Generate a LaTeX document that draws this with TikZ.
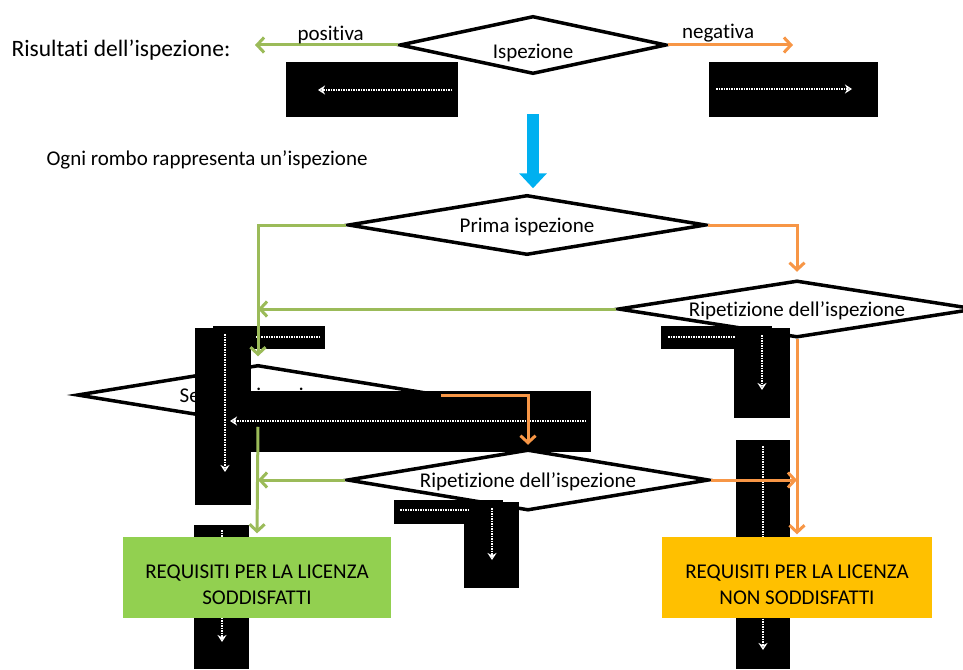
\documentclass[tikz,border=0pt]{standalone}
\usepackage{fontspec}
\setmainfont{Carlito}[Ligatures=NoCommon]
\usetikzlibrary{positioning}
\usetikzlibrary{shapes.geometric}
\usetikzlibrary{arrows.meta}
\definecolor{linegreen}{RGB}{155, 187, 89}
\definecolor{lineorange}{RGB}{247, 150, 70}
\definecolor{skyblue}{RGB}{0, 176, 240}
\definecolor{boxgreen}{RGB}{146, 208, 80}
\definecolor{boxorange}{RGB}{255, 192, 0}

\begin{document}
\begin{tikzpicture}
  [
    x                 = 1pt,
    y                 = -1pt,
    font              = \fontsize{21}{26}\selectfont,
    barb/.style       = {-{Straight Barb[length=7pt,width=15pt]}}
  ]
  \path[use as bounding box, clip] (0,0) rectangle (963,669);
  \begin{scope}[rombo/.style={diamond,draw,line width=3.5pt,aspect=6.3,inner sep=0pt,text height=17pt,text depth=2pt},
  			yes/.style={draw=linegreen,line width=3pt,barb},
  			no/.style={draw=lineorange,line width=3pt,barb},
  			result/.style={rectangle,minimum width=268pt,minimum height=81pt,align=center},
  			blackbox/.style={fill=black},
  			dots/.style={draw=white,densely dotted,line width=1.5pt}]
  \node [anchor=west,font=\fontsize{23.5}{28}\selectfont] (leg) at (8,50) {Risultati dell’ispezione:};
  \node [rombo,minimum width=267pt,minimum height=58pt,aspect=4,text height=29pt] (isp) at (533,45) {Ispezione};
  \node [anchor=west] (note) at (43,160) {Ogni rombo rappresenta un’ispezione};
  \node [rombo,minimum width=358pt,minimum height=60pt] (prima) at (527,225) {Prima ispezione};
  \node [rombo,minimum width=358pt,minimum height=57pt] (rip1) at (797,309) {Ripetizione dell’ispezione};
  \node [rombo,minimum width=362pt,minimum height=60pt] (sec) at (258,395) {Seconda ispezione};
  \node [rombo,minimum width=362pt,minimum height=61pt] (rip2) at (528,480) {Ripetizione dell’ispezione};
  \coordinate (posend) at (255,45);
  \coordinate (negend) at (793,45);
  \coordinate (bluetop) at (533,114);

  \fill[blackbox] (286,62) rectangle (458,117);
  \fill[blackbox] (709,62) rectangle (878,117);
  \fill[blackbox] (195,328) rectangle (251,505);
  \fill[blackbox] (213,326) rectangle (325,349);
  \fill[blackbox] (222,391) rectangle (591,452);
  \fill[blackbox] (661,326) rectangle (772,349);
  \fill[blackbox] (734,328) rectangle (790,418);
  \fill[blackbox] (394,500) rectangle (503,524);
  \fill[blackbox] (464,502) rectangle (519,588);
  \fill[blackbox] (736,440) rectangle (790,669);
  \fill[blackbox] (194,525) rectangle (249,669);
  \draw[dots,-{Stealth[length=7pt,width=9pt,open]}] (452,90) -- (318,90);
  \draw[dots,-{Stealth[length=7pt,width=9pt,open]}] (716,89) -- (852,89);
  \draw[dots,-{Stealth[length=7pt,width=9pt,open]}] (225,334) -- (225,472);
  \draw[dots] (320,337) -- (256,337);
  \draw[dots,-{Stealth[length=7pt,width=9pt,open]}] (586,421) -- (230,421);
  \draw[dots] (668,337) -- (735,337);
  \draw[dots,-{Stealth[length=7pt,width=9pt,open]}] (762,335) -- (762,390);
  \draw[dots] (400,510) -- (468,510);
  \draw[dots,-{Stealth[length=7pt,width=9pt,open]}] (492,508) -- (492,560);
  \draw[dots,-{Stealth[length=7pt,width=9pt,open]}] (763,446) -- (763,650);
  \draw[dots,-{Stealth[length=7pt,width=9pt,open]}] (222,530) -- (222,642);

  \node [result,fill=boxgreen] (ok) at (257,577) {\rule{0pt}{29pt}REQUISITI PER LA LICENZA\\SODDISFATTI};
  \node [result,fill=boxorange,minimum width=270pt] (ko) at (797,577) {\rule{0pt}{29pt}REQUISITI PER LA LICENZA\\NON SODDISFATTI};

  \draw[yes] (isp.west) -- (posend) node [pos=0.47,above=-4pt] {positiva};
  \draw[no] (isp.east) -- (negend) node [pos=0.4,above=-2pt] {negativa};
  \draw[skyblue,line width=12pt,-{Triangle[length=15pt,width=27pt]}] (bluetop) -- ([yshift=5pt]bluetop |- prima.north);
  \draw[yes,shorten >=7pt] (prima.west) -| (sec.north);
  \draw[no,shorten >=7pt] (prima.east) -| (rip1.north);
  \draw[yes] (rip1.west) -- (rip1.west -| sec.north);
  \draw[no,shorten >=2pt] (rip1.south) -- (ko.north);
  \draw[no,shorten >=3pt] (sec.east) -| (rip2.north);
  \draw[yes,shorten >=3pt] (sec.south) -- (ok.north);
  \draw[yes] (rip2.west) -- (rip2.west -| sec.south);
  \draw[no] (rip2.east) -- (rip2.east -| rip1.south);
  \end{scope}
\end{tikzpicture}
\end{document}
